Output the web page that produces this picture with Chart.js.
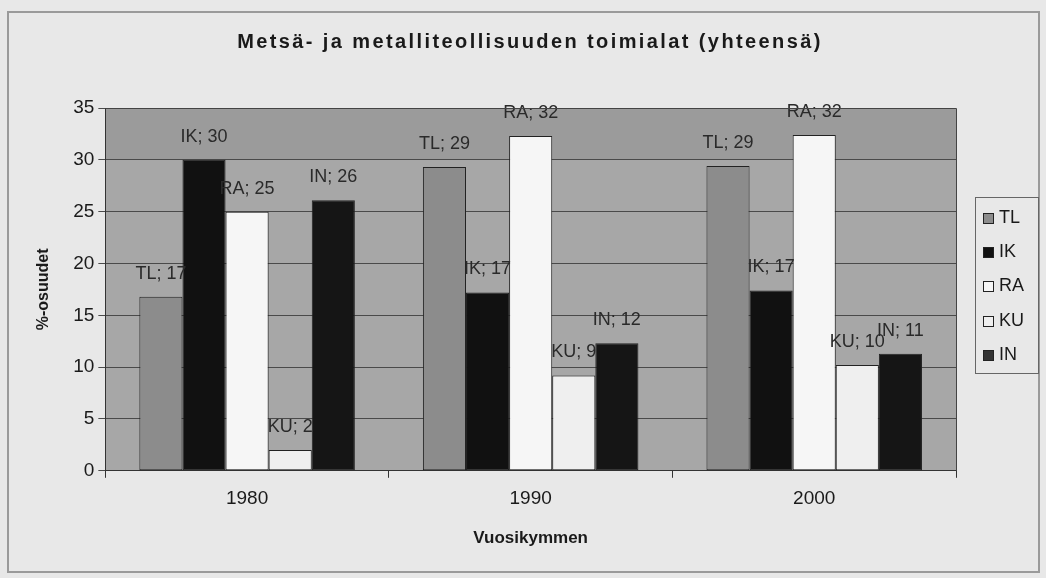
<!DOCTYPE html>
<html>
<head>
<meta charset="utf-8">
<script src="https://cdn.jsdelivr.net/npm/chart.js@4/dist/chart.umd.min.js"></script>
<style>
  html, body { margin: 0; padding: 0; background: #e8e8e8; }
  canvas { display: block; }
</style>
</head>
<body>
<canvas id="chart" width="1046" height="578"></canvas>
<script>
// data
const decades = ["1980", "1990", "2000"];
const seriesNames = ["TL", "IK", "RA", "KU", "IN"];
const tlValues = [16.8, 29.3, 29.4];
const ikValues = [30.0, 17.2, 17.4];
const raValues = [25.0, 32.3, 32.4];
const kuValues = [2.0, 9.2, 10.2];
const inValues = [26.1, 12.3, 11.3];
const yTicks = [0, 5, 10, 15, 20, 25, 30, 35];
const chartTitle = "Metsä- ja metalliteollisuuden toimialat (yhteensä)";

const fills = ["#8c8c8c", "#111111", "#f6f6f6", "#efefef", "#151515"];
const legendFills = ["#8c8c8c", "#111111", "#f6f6f6", "#efefef", "#333333"];
const font = "'Liberation Sans', Arial, sans-serif";

// page frame, plot fill, title, legend box
const backdrop = {
  id: "backdrop",
  beforeDraw(chart) {
    const ctx = chart.ctx;
    ctx.save();
    ctx.fillStyle = "#e8e8e8";
    ctx.fillRect(0, 0, chart.width, chart.height);
    ctx.strokeStyle = "#9a9a9a";
    ctx.lineWidth = 2;
    ctx.strokeRect(8, 12, 1031, 560);
    const a = chart.chartArea;
    const y = chart.scales.y;
    ctx.fillStyle = "#a7a7a7";
    ctx.fillRect(a.left, a.top, a.right - a.left, a.bottom - a.top);
    const y30 = y.getPixelForValue(30);
    ctx.fillStyle = "#9b9b9b";
    ctx.fillRect(a.left, a.top, a.right - a.left, y30 - a.top);

    // title, slightly spaced like the original
    ctx.font = "bold 20px " + font;
    if ("letterSpacing" in ctx) ctx.letterSpacing = "2.4px";
    ctx.fillStyle = "#1a1a1a";
    ctx.textAlign = "center";
    ctx.textBaseline = "middle";
    ctx.fillText(chartTitle, 530, 42);
    ctx.restore();
  },
  afterDraw(chart) {
    const ctx = chart.ctx;
    const a = chart.chartArea;
    ctx.save();
    // plot border top / right
    ctx.strokeStyle = "#444";
    ctx.lineWidth = 1;
    ctx.beginPath();
    ctx.moveTo(a.left, a.top + 0.5);
    ctx.lineTo(a.right + 0.5, a.top + 0.5);
    ctx.lineTo(a.right + 0.5, a.bottom);
    ctx.stroke();

    // legend
    const bx = Math.round(a.right) + 19;
    const by = Math.round((a.top + a.bottom) / 2) - 92;
    ctx.fillStyle = "#e8e8e8";
    ctx.fillRect(bx, by, 63, 176);
    ctx.strokeStyle = "#666";
    ctx.strokeRect(bx + 0.5, by + 0.5, 63, 176);
    ctx.font = "18px " + font;
    ctx.textAlign = "left";
    ctx.textBaseline = "middle";
    seriesNames.forEach((name, i) => {
      const cy = by + 21 + i * 34.2;
      ctx.fillStyle = legendFills[i];
      ctx.fillRect(bx + 8.5, Math.round(cy - 5) + 0.5, 10, 10);
      ctx.strokeStyle = "#222";
      ctx.strokeRect(bx + 8.5, Math.round(cy - 5) + 0.5, 10, 10);
      ctx.fillStyle = "#1a1a1a";
      ctx.fillText(name, bx + 24, cy);
    });
    ctx.restore();
  }
};

// "TL; 17" style labels
const barLabels = {
  id: "barLabels",
  afterDatasetsDraw(chart) {
    const ctx = chart.ctx;
    ctx.save();
    ctx.font = "18px " + font;
    ctx.fillStyle = "#2a2a2a";
    ctx.textAlign = "center";
    ctx.textBaseline = "middle";
    chart.data.datasets.forEach((ds, i) => {
      const meta = chart.getDatasetMeta(i);
      meta.data.forEach((bar, j) => {
        ctx.fillText(ds.label + "; " + Math.round(ds.data[j]), bar.x, bar.y - 23);
      });
    });
    ctx.restore();
  }
};

const allValues = [tlValues, ikValues, raValues, kuValues, inValues];

new Chart(document.getElementById("chart"), {
  type: "bar",
  data: {
    labels: decades,
    datasets: seriesNames.map((name, i) => ({
      label: name,
      data: allValues[i],
      backgroundColor: fills[i],
      borderColor: "#222",
      borderWidth: 1,
      borderSkipped: false,
      barPercentage: 1.0,
      categoryPercentage: 0.76
    }))
  },
  options: {
    responsive: false,
    animation: false,
    layout: { padding: { left: 30, right: 90, top: 108, bottom: 25 } },
    plugins: {
      title: { display: false },
      legend: { display: false },
      tooltip: { enabled: false }
    },
    scales: {
      x: {
        grid: { display: true, drawOnChartArea: false, color: "#333", tickLength: 7, offset: true },
        border: { color: "#333" },
        ticks: { color: "#1a1a1a", font: { family: font, size: 19 }, padding: 10 },
        title: {
          display: true,
          text: "Vuosikymmen",
          color: "#1a1a1a",
          font: { family: font, size: 17, weight: "bold" },
          padding: { top: 8 }
        }
      },
      y: {
        min: 0,
        max: 35,
        afterBuildTicks(axis) { axis.ticks = yTicks.map(v => ({ value: v })); },
        grid: { color: "#4a4a4a", tickLength: 7 },
        border: { color: "#333" },
        ticks: { color: "#1a1a1a", font: { family: font, size: 19 }, padding: 4 },
        title: {
          display: true,
          text: "%-osuudet",
          color: "#1a1a1a",
          font: { family: font, size: 16, weight: "bold" },
          padding: { top: 4, bottom: 16 }
        }
      }
    }
  },
  plugins: [backdrop, barLabels]
});
</script>
</body>
</html>
